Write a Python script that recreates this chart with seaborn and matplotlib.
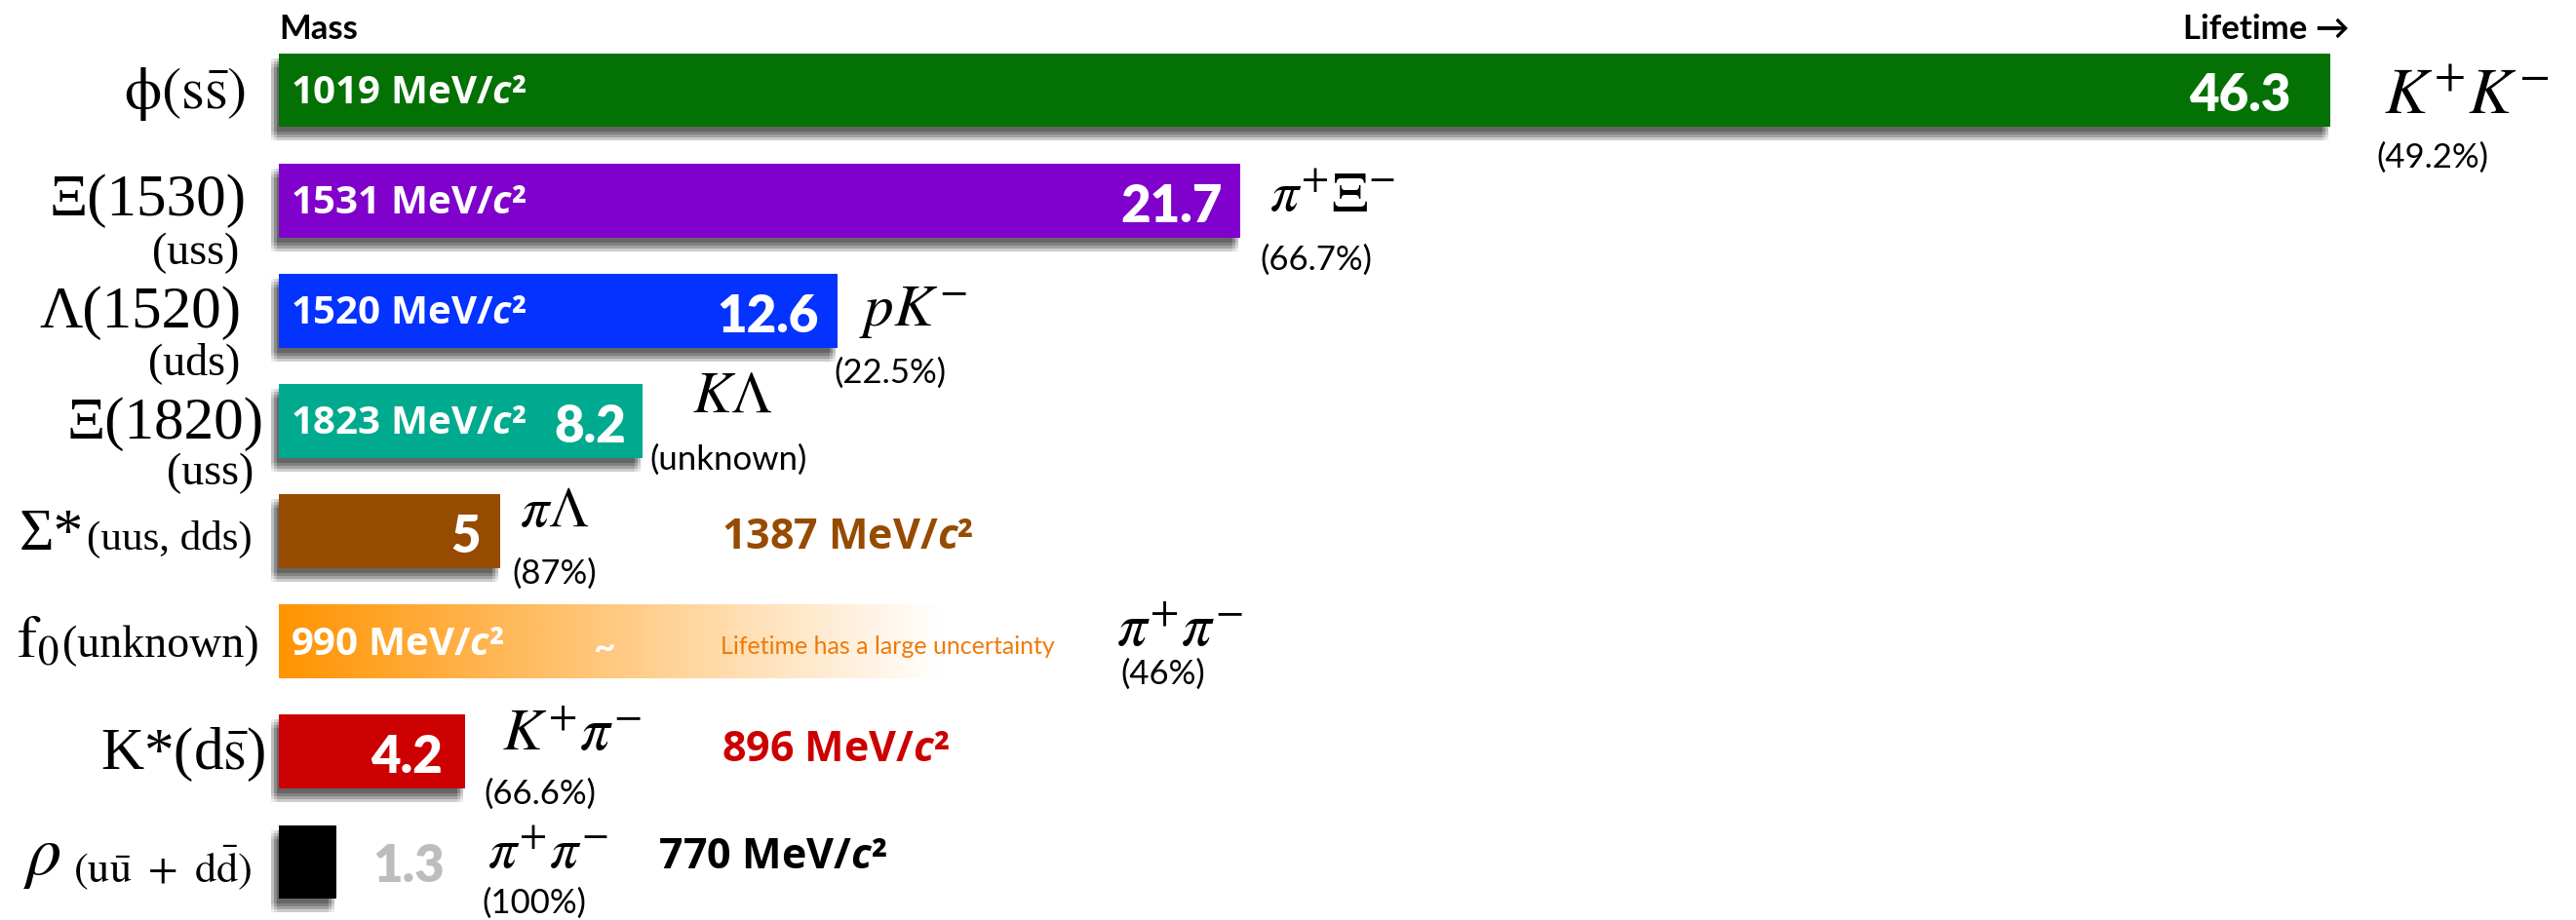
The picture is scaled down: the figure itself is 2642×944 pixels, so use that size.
import numpy as np
import pandas as pd
import matplotlib
matplotlib.use("Agg")
import matplotlib.pyplot as plt
import matplotlib.patheffects as pe
from matplotlib.colors import to_rgb
from matplotlib.transforms import offset_copy
import seaborn as sns

# ---------------- data ----------------
particles = ["phi", "Xi(1530)", "Lambda(1520)", "Xi(1820)", "Sigma*", "f0", "K*", "rho"]
lifetimes = [46.3, 21.7, 12.6, 8.2, 5.0, 15.0, 4.2, 1.3]          # fm/c (f0: rough, uncertain)
lifetime_known = [True, True, True, True, True, False, True, True]
masses = [1019, 1531, 1520, 1823, 1387, 990, 896, 770]              # MeV/c^2
decay_channels = [r"$K^{+}K^{-}$", r"$\pi^{+}\Xi^{-}$", r"$pK^{-}$", r"$K\Lambda$",
                  r"$\pi\Lambda$", r"$\pi^{+}\pi^{-}$", r"$K^{+}\pi^{-}$", r"$\pi^{+}\pi^{-}$"]
branching = ["(49.2%)", "(66.7%)", "(22.5%)", "(unknown)", "(87%)", "(46%)", "(66.6%)", "(100%)"]
name_main = [r"$\mathrm{\phi(s\bar{s})}$", "Ξ(1530)", "Λ(1520)", "Ξ(1820)", "Σ*",
             r"$\mathrm{f}_{0}$", r"K*(d$\bar{\mathrm{s}}$)", r"$\rho$"]
name_tail = [None, None, None, None, "(uus, dds)", "(unknown)", None,
             r"$\mathrm{(u\bar{u}\ +\ d\bar{d})}$"]
name_quarks = [None, "(uss)", "(uds)", "(uss)", None, None, None, None]
bar_colors = ["#047104", "#8000CC", "#0433FF", "#00AA8E", "#964B00", "#FF9300", "#CC0000", "#000000"]

# ---------------- layout (pixel offsets) ----------------
W, H, DPI = 2642, 945, 100
BAR_X0 = 286            # left edge of bars, px
BAR_XMAX = 2390         # right end of the longest bar, px
ROW0, ROW7 = 93.5, 885.5  # bar centres of first / last row, px
mass_inside = [True, True, True, True, False, True, False, False]
name_size = [44, 44, 44, 44, 44, 44, 44, 52]
name_gap = [34, 34, 39, 16, 27, 20, 14, 28]
name_base = [18, 14, 16, 17, 18, 15, 17, 12]
tail_base = [None, None, None, None, 18, 15, None, 21]
tail_size = [None, None, None, None, 31, 33, None, 32]
tail_space = [None, None, None, None, 4, 4, None, 12]
quark_gap = [None, 41, 40, 26, None, None, None, None]
value_pad = [41, 18, 19, 17, 20, None, 23, None]
decay_dx = [55, 30, 22, 51, 20, 177, 38, 155]
decay_base = [24, 10, 14, -10, -6, 4, -2, 5]
decay_size = [48, 42, 44, 43, 42, 44, 44, 42]
br_dx = [47, 20, -3, 8, 12, 182, 20, 149]
br_dy = [68, 60, 63, 39, 43, 33, 42, 41]

sns.set_theme(style="white")
plt.rcParams.update({
    "font.family": ["Lato", "DejaVu Sans"],
    "mathtext.fontset": "custom",
    "mathtext.it": "Open Sans:italic:bold",
    "mathtext.rm": "Open Sans:bold",
})

fig = plt.figure(figsize=(W / DPI, H / DPI), dpi=DPI)
ax = fig.add_axes([0, 0, 1, 1])

df = pd.DataFrame({"particle": particles, "lifetime": lifetimes})
sns.barplot(data=df, x="lifetime", y="particle", hue="particle", order=particles,
            hue_order=particles, palette=bar_colors, saturation=1, width=0.67,
            linewidth=0, legend=False, orient="h", ax=ax)

px_per_unit = (BAR_XMAX - BAR_X0) / max(lifetimes)
row_px = (ROW7 - ROW0) / (len(particles) - 1)
xlim = (-BAR_X0 / px_per_unit, (W - BAR_X0) / px_per_unit)
ylim = (len(particles) - 1 + (H - ROW7) / row_px, -ROW0 / row_px)
ax.set_xlim(*xlim)
ax.set_ylim(*ylim)
ax.set_axis_off()

bars = sorted(ax.patches, key=lambda p: p.get_y())

# soft drop shadow under the bars
shadow = []
for ox in (-2, -5, -8):
    for oy in (5, 8, 11, 14):
        shadow.append(pe.SimplePatchShadow(offset=(ox * 0.72, -oy * 0.72),
                                           shadow_rgbFace="black", alpha=0.07))
shadow.append(pe.Normal())


def put(x, y, s, dx=0.0, dy=0.0, **kw):
    tr = offset_copy(ax.transData, fig=fig, x=dx, y=-dy, units="dots")
    return ax.text(x, y, s, transform=tr, clip_on=False, **kw)


def mass_text(m):
    return f"{m} MeV/" + r"$\mathit{c}$" + "²"


renderer = fig.canvas.get_renderer()
serif = dict(family=["Liberation Serif", "DejaVu Serif"], math_fontfamily="stix", color="black")
mass_font = dict(family=["Open Sans", "DejaVu Sans"], fontweight="bold")

for i, (bar, name) in enumerate(zip(bars, particles)):
    y = i
    x_end = bar.get_x() + bar.get_width()
    if lifetime_known[i]:
        bar.set_path_effects(shadow)
    else:
        # fading bar for a poorly known lifetime
        bar.set_facecolor("none")
        rgb = to_rgb(bar_colors[i])
        grad = np.ones((2, 256, 4))
        grad[..., :3] = rgb
        grad[..., 3] = np.linspace(1, 0, 256)[None, :]
        im = ax.imshow(grad, extent=[bar.get_x(), x_end, bar.get_y() + bar.get_height(), bar.get_y()],
                       aspect="auto", interpolation="bilinear", zorder=bar.get_zorder())
        im.set_clip_path(bar)

    # particle name on the left
    right = -name_gap[i]
    if name_tail[i] is not None:
        t = put(0, y, name_tail[i], dx=right, dy=tail_base[i], ha="right", va="baseline",
                fontsize=tail_size[i], **serif)
        w = t.get_window_extent(renderer).width
        right -= w + tail_space[i]
    put(0, y, name_main[i], dx=right, dy=name_base[i], ha="right", va="baseline",
        fontsize=name_size[i], **serif)
    if name_quarks[i] is not None:
        put(0, y, name_quarks[i], dx=-quark_gap[i], dy=64, ha="right", va="baseline", fontsize=33, **serif)

    # mass
    if mass_inside[i]:
        put(0, y, mass_text(masses[i]), dx=12, dy=2, ha="left", va="center", fontsize=29,
            color="white", **mass_font)

    # lifetime value
    if lifetime_known[i]:
        label = f"{lifetimes[i]:g}"
        if value_pad[i] is not None:
            put(x_end, y, label, dx=-value_pad[i], dy=21, ha="right", va="baseline",
                fontsize=38, fontweight="heavy", color="white")
        else:
            put(x_end, y, label, dx=37, dy=20, ha="left", va="baseline",
                fontsize=38, fontweight="heavy", color="#BDBDBD")
    else:
        put(bar.get_x() + 0.49 * bar.get_width(), y, "~", dy=6, ha="center", va="center",
            fontsize=28, fontweight="bold", color="white")
        put(bar.get_x() + 0.665 * bar.get_width(), y, "Lifetime has a large uncertainty",
            dy=4, ha="left", va="center", fontsize=18, color="#F07A0A")

    # decay channel and branching ratio
    put(x_end, y, decay_channels[i], dx=decay_dx[i], dy=decay_base[i], ha="left", va="baseline",
        fontsize=decay_size[i], math_fontfamily="stix", color="black")
    put(x_end, y, branching[i], dx=br_dx[i], dy=br_dy[i], ha="left", va="center",
        fontsize=25, color="black")

# masses written beside the short bars
put(10.0, 4, mass_text(masses[4]), dy=5, ha="left", va="center",
    fontsize=31, color=bar_colors[4], **mass_font)
put(10.0, 6, mass_text(masses[6]), dy=-3, ha="left", va="center",
    fontsize=31, color=bar_colors[6], **mass_font)
put(bars[7].get_x() + bars[7].get_width(), 7, mass_text(masses[7]),
    dx=330, dy=-6, ha="left", va="center", fontsize=31, color=bar_colors[7], **mass_font)

# column headers
put(0, 0, "Mass", dy=-63, ha="left", va="center", fontsize=25, fontweight="bold", color="black")
put(bars[0].get_x() + bars[0].get_width(), 0, "Lifetime →", dx=20, dy=-63, ha="right",
    va="center", fontsize=25, fontweight="bold", color="black")

ax.set_xlim(*xlim)
ax.set_ylim(*ylim)
fig.savefig("out.png", dpi=DPI, facecolor="white")
